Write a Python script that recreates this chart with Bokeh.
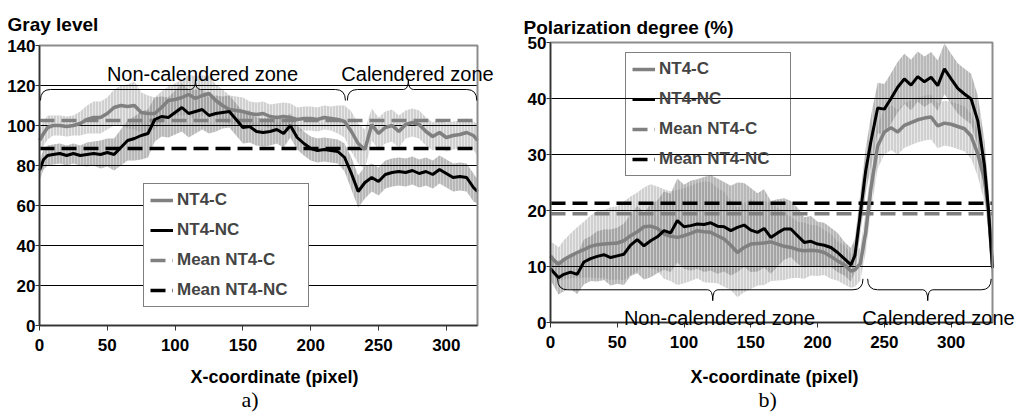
from bokeh.plotting import figure
from bokeh.layouts import row
from bokeh.models import Range1d, Label, Legend, LegendItem, FixedTicker
from bokeh.embed import file_html
from bokeh.resources import INLINE
import numpy as np

# ---------------- data: panel a) gray level ----------------
x_a = [0, 3, 6, 10, 15, 20, 25, 30, 35, 40, 45, 50, 55, 60, 65, 70, 75, 80, 85, 90,
       95, 100, 105, 110, 115, 120, 125, 130, 135, 140, 145, 150, 155, 160, 165, 170,
       175, 180, 185, 190, 195, 200, 205, 210, 215, 220, 225, 230, 235, 240, 245, 250,
       255, 260, 265, 270, 275, 280, 285, 290, 295, 300, 305, 310, 315, 320, 323]
gray_c = [92.5, 96, 99, 100, 100, 99.5, 100, 101, 103, 104, 104, 106, 109, 110, 109.5,
          110, 106.5, 106, 106, 109, 112.5, 113, 114, 115.5, 113.5, 115, 116, 112.5, 110,
          108, 107.5, 107, 106, 105.5, 106, 104.5, 104, 104.5, 104, 103, 103.5, 103.5,
          103, 104, 103.5, 103, 102, 97, 91, 88, 100.5, 96, 99, 100, 97, 100.5, 101.5,
          100.5, 97, 94.5, 96.5, 94, 95, 95.5, 96.5, 95, 92.5]
gray_nc = [77.5, 83, 85, 85.5, 86, 85, 86, 85, 85.5, 86, 85.5, 86.5, 85.5, 89, 92.5,
           93.5, 95, 96, 103, 104.5, 104, 106.5, 109, 106, 107, 108, 105, 106, 106.5, 107,
           103, 99, 99.5, 97, 96.5, 97, 98, 96, 100, 94, 91, 88.5, 87.5, 88, 87.5, 87, 84,
           76, 67, 71.5, 74, 72, 75.5, 76.5, 77, 76.5, 77.5, 76, 77, 75.5, 78, 76, 74,
           74.5, 74, 69, 67]
sd_gray_c = [6, 6, 6, 5, 5, 5, 5, 6, 7, 8, 8, 8,
             9, 10, 11, 12, 10, 9, 8, 8,
             7, 8, 9, 10, 11, 10, 9, 8,
             8, 7, 7, 7, 6, 6, 6, 6, 7, 7, 7, 6, 6, 6, 6, 6, 6, 7,
             8, 10, 10, 10,
             8, 8, 8, 8, 8, 7, 7, 7, 7, 7, 7, 7, 7, 7, 7, 7, 8]
sd_gray_nc = [5, 5, 5, 5, 5, 5, 5, 5, 6, 6, 7, 7,
              8, 9, 10, 11, 12, 12, 11, 10,
              10, 11, 12, 12, 11, 10, 9, 9,
              8, 8, 8, 8, 8, 7, 7, 7, 7, 7, 6, 6, 6, 6, 6, 6, 6, 6,
              7, 8, 8, 8,
              7, 7, 7, 7, 7, 7, 7, 7, 7, 7, 7, 7, 7, 7, 7, 7, 6]
mean_gray_c = 102.5
mean_gray_nc = 88.5
xticks_a = [0, 50, 100, 150, 200, 250, 300]
yticks_a = [0, 20, 40, 60, 80, 100, 120, 140]
zones_a = ["Non-calendered zone", "Calendered zone"]
zone_start_a = [0.7, 227.0]
zone_end_a = [225.6, 322.5]
zone_tip_a = [115.0, 272.0]

# ---------------- data: panel b) polarization degree ----------------
x_b = [0, 3, 6, 10, 15, 20, 25, 30, 35, 40, 45, 50, 55, 60, 65, 70, 75, 80, 85, 90,
       95, 100, 105, 110, 115, 120, 125, 130, 135, 140, 145, 150, 155, 160, 165, 170,
       175, 180, 185, 190, 195, 200, 205, 210, 215, 220, 225, 228, 232, 236, 240, 245,
       250, 255, 260, 265, 270, 275, 280, 285, 290, 295, 300, 305, 310, 315, 320, 325,
       328, 331]
pol_nc = [9.6, 8.8, 8.0, 8.6, 9.0, 8.6, 10.8, 11.4, 11.8, 12.1, 11.6, 11.9, 12.2, 13.8,
          14.8, 13.7, 14.6, 15.3, 16.4, 16.0, 18.2, 17.1, 17.3, 17.6, 17.5, 17.8, 17.2,
          17.1, 16.4, 17.0, 17.4, 16.5, 16.1, 16.8, 15.2, 16.0, 16.7, 16.7, 15.5, 14.3,
          14.5, 14.0, 13.8, 13.4, 12.5, 11.4, 10.3, 12.0, 19.4, 27.0, 32.4, 38.3, 38.1,
          40.0, 42.0, 43.5, 42.4, 43.9, 43.0, 43.8, 42.3, 45.3, 43.5, 41.8, 40.8, 39.9,
          36.0, 28.0, 20.0, 9.7]
pol_c = [11.9, 11.0, 10.4, 11.2, 11.9, 12.5, 13.0, 13.6, 13.9, 14.0, 14.1, 14.2, 14.6,
         15.5, 16.2, 17.1, 17.2, 16.8, 15.8, 15.4, 15.2, 15.5, 15.9, 16.4, 16.2, 16.1,
         15.5, 14.9, 13.8, 12.5, 13.4, 14.0, 14.1, 14.2, 14.4, 14.0, 13.6, 13.4, 13.0,
         12.8, 12.9, 12.8, 12.5, 11.8, 11.0, 10.3, 9.2, 9.4, 10.5, 16.0, 24.0, 31.5, 34.0,
         34.8, 34.0, 35.2, 35.7, 36.2, 36.5, 36.7, 35.1, 35.6, 35.4, 35.0, 34.6, 33.3,
         30.1, 25.5, 20.0, 10.0]
sd_pol_c = [2.5, 3, 3, 3.5, 4, 4.5,
            5, 5.5, 6, 6, 6.5, 6.5, 7, 7,
            7, 7, 7.5, 7.5, 8, 8, 8.5, 8.5,
            8.5, 8.5, 9, 9, 8.5, 8.5, 8, 8, 8, 8, 7.5, 7.5, 7, 6.5, 6,
            5.5, 5, 5, 4.5, 4.5, 4, 4, 3.5, 3.5, 3,
            3, 3, 3.5,
            4, 4, 4, 4, 4, 4, 4, 4, 4, 4, 4, 4, 4, 4, 4, 4, 4, 4,
            3.5, 3]
sd_pol_nc = [2, 2.5, 3, 3, 3, 3.5,
             4, 4, 4.5, 4.5, 5, 5, 5.5, 5.5,
             6, 6, 6.5, 6.5, 7, 7, 7.5, 7.5,
             8, 8, 8.5, 8.5, 8.5, 8, 8, 8, 7.5, 7.5, 7, 7, 6.5, 6, 5.5,
             5, 5, 4.5, 4.5, 4, 4, 3.5, 3.5, 3, 3,
             3, 3.5, 4,
             4.5, 4.5, 4.5, 4.5, 4.5, 4.5, 4.5, 4.5, 4.5, 4.5, 4.5, 4.5, 4.5, 4.5, 4.5,
             4.5, 4.5, 4.5,
             4, 3]
mean_pol_c = 19.4
mean_pol_nc = 21.3
xticks_b = [0, 50, 100, 150, 200, 250, 300]
yticks_b = [0, 10, 20, 30, 40, 50]
zones_b = ["Non-calendered zone", "Calendered zone"]
zone_start_b = [5.3, 237.5]
zone_end_b = [234.0, 330.0]
zone_tip_b = [121.5, 282.5]

series_names = ["NT4-C", "NT4-NC", "Mean NT4-C", "Mean NT4-NC"]

SANS = "Liberation Sans"
GRAY = "#808080"


class Panel:
    """Figure whose frame covers the whole canvas; the plot area is a sub-rectangle."""

    def __init__(self, width, height, left, top, pw, ph, xmax, ymax):
        self.kx = xmax / pw
        self.ky = ymax / ph
        bottom = height - top - ph
        xr = Range1d(-left * self.kx, (width - left) * self.kx)
        yr = Range1d(-bottom * self.ky, ymax + top * self.ky)
        self.p = figure(width=width, height=height, x_range=xr, y_range=yr,
                        output_backend="svg", toolbar_location=None, min_border=0)
        self.xmax, self.ymax = xmax, ymax

    def text(self, sx, sy, text, size, bold=False, font=SANS, align="left"):
        # sx, sy: pixels from the bottom-left corner of the plot area
        self.p.add_layout(Label(x=sx * self.kx, y=sy * self.ky, text=text,
                                text_font=font, text_font_size=size,
                                text_font_style="bold" if bold else "normal",
                                text_color="black", text_align=align,
                                text_baseline="alphabetic"))


def build(panel, x, c, nc, sdc, sdnc, mc, mnc, xticks, yticks, legend_loc, legend_bg):
    p = panel.p
    xmax, ymax = panel.xmax, panel.ymax
    p.background_fill_color = "white"
    p.border_fill_color = "white"
    p.outline_line_color = None
    p.grid.visible = False

    xa = np.array(x, dtype=float)
    ca = np.array(c, dtype=float)
    nca = np.array(nc, dtype=float)
    sc = np.array(sdc, dtype=float)
    snc = np.array(sdnc, dtype=float)

    p.varea(x=xa, y1=ca - sc, y2=ca + sc, fill_color="#c4c4c4", fill_alpha=0.8,
            hatch_pattern="|", hatch_color="white", hatch_alpha=0.5,
            hatch_scale=3, hatch_weight=1)
    p.varea(x=xa, y1=nca - snc, y2=nca + snc, fill_color="#888888", fill_alpha=0.6,
            hatch_pattern="|", hatch_color="white", hatch_alpha=0.35,
            hatch_scale=3, hatch_weight=1)

    # horizontal grid lines at the y ticks
    p.segment(x0=[0] * len(yticks), y0=yticks, x1=[xmax] * len(yticks), y1=yticks,
              line_color="black", line_width=1)

    rm_c = p.line(xa, np.full_like(xa, mc), line_color=GRAY, line_width=3.5, line_dash="15 7")
    rm_nc = p.line(xa, np.full_like(xa, mnc), line_color="black", line_width=3.5, line_dash="15 7")
    r_c = p.line(xa, ca, line_color=GRAY, line_width=3.5)
    r_nc = p.line(xa, nca, line_color="black", line_width=3)

    # plot-area border
    p.quad(left=[0], right=[xmax], bottom=[0], top=[ymax], fill_color=None,
           line_color="#8c8c8c", line_width=2)

    # axes drawn inside the frame at x=0 / y=0
    p.xaxis.fixed_location = 0
    p.yaxis.fixed_location = 0
    p.xaxis.bounds = (0, xmax)
    p.yaxis.bounds = (0, ymax)
    p.xaxis.ticker = FixedTicker(ticks=xticks)
    p.yaxis.ticker = FixedTicker(ticks=yticks)
    for ax in (p.xaxis[0], p.yaxis[0]):
        ax.axis_line_color = "#333333"
        ax.axis_line_width = 1.5
        ax.major_tick_line_color = "#333333"
        ax.major_tick_line_width = 1
        ax.major_tick_in = 0
        ax.minor_tick_line_color = None
        ax.major_label_text_font = SANS
        ax.major_label_text_font_style = "bold"
        ax.major_label_text_font_size = "17px"
        ax.major_label_text_color = "black"
    p.xaxis.major_tick_out = 5
    p.xaxis.major_label_standoff = 8
    p.yaxis.major_tick_out = 4
    p.yaxis.major_label_standoff = 0

    legend = Legend(items=[LegendItem(label=series_names[0], renderers=[r_c]),
                           LegendItem(label=series_names[1], renderers=[r_nc]),
                           LegendItem(label=series_names[2], renderers=[rm_c]),
                           LegendItem(label=series_names[3], renderers=[rm_nc])],
                    location=legend_loc, margin=0, padding=6, spacing=10,
                    glyph_width=23, glyph_height=20, label_height=20, label_width=125,
                    label_standoff=4, label_text_font=SANS, label_text_font_style="bold",
                    label_text_font_size="17px", border_line_color="black",
                    border_line_width=1, background_fill_color="white",
                    background_fill_alpha=1.0 if legend_bg else 0.0)
    p.add_layout(legend)


def draw_braces(p, starts, ends, tips, y_end, y_h, y_tip, d, d2):
    for s, e, t in zip(starts, ends, tips):
        p.quadratic(x0=[s, e, t - d2, t + d2], y0=[y_end, y_end, y_h, y_h],
                    x1=[s + d, e - d, t, t], y1=[y_h, y_h, y_tip, y_tip],
                    cx=[s, e, t, t], cy=[y_h, y_h, y_h, y_h],
                    line_color="black", line_width=1)
        p.segment(x0=[s + d, t + d2], y0=[y_h, y_h], x1=[t - d2, e - d], y1=[y_h, y_h],
                  line_color="black", line_width=1)


# ---------------- panel a ----------------
A = Panel(510, 414, 39, 45, 438, 280, 323, 140)
build(A, x_a, gray_c, gray_nc, sd_gray_c, sd_gray_nc, mean_gray_c, mean_gray_nc,
      xticks_a, yticks_a, (143, 107), True)
draw_braces(A.p, zone_start_a, zone_end_a, zone_tip_a, 112.5, 118.0, 123.0, 7.4, 3.7)
A.text(163, 252, zones_a[0], "20px", align="center")
A.text(378, 252, zones_a[1], "20px", align="center")
A.text(-32, 301, "Gray level", "19px", bold=True)
A.text(151, -51, "X-coordinate (pixel)", "18px", bold=True)
A.text(202, -74, "a)", "22px", font="Liberation Serif")

# ---------------- panel b ----------------
B = Panel(512, 414, 40, 42, 442, 280, 331, 50)
build(B, x_b, pol_c, pol_nc, sd_pol_c, sd_pol_nc, mean_pol_c, mean_pol_nc,
      xticks_b, yticks_b, (115, 238), False)
draw_braces(B.p, zone_start_b, zone_end_b, zone_tip_b, 7.8, 5.84, 3.9, 7.5, 3.75)
B.text(169, 5, zones_b[0], "20px", align="center")
B.text(388, 5, zones_b[1], "20px", align="center")
B.text(-27, 295, "Polarization degree (%)", "19px", bold=True)
B.text(140, -54, "X-coordinate (pixel)", "18px", bold=True)
B.text(208, -77, "b)", "22px", font="Liberation Serif")

layout = row(A.p, B.p)
open("out.html", "w").write(file_html(layout, INLINE))
